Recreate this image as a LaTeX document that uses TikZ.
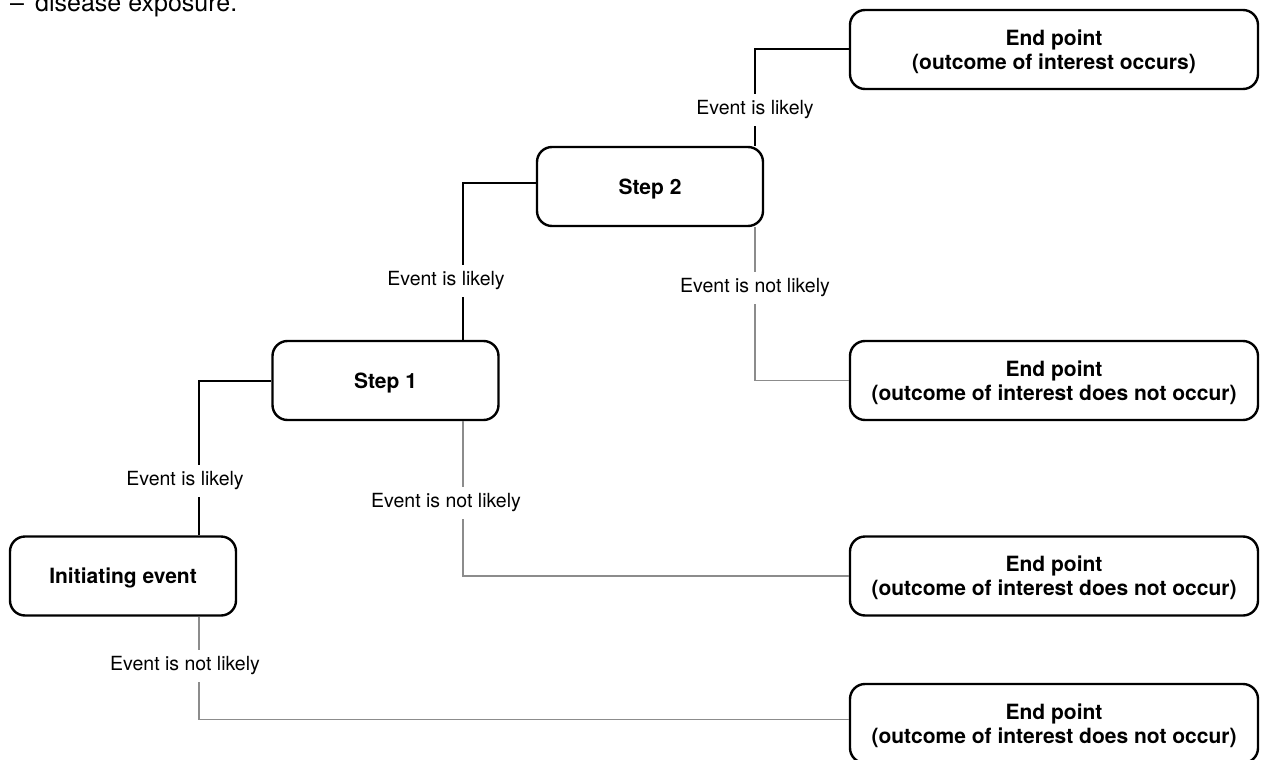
\documentclass[tikz,border=0pt]{standalone}
\usepackage{fontspec}
\setmainfont{TeX Gyre Heros}
\definecolor{linegray}{HTML}{8C8C8C}
\begin{document}
\begin{tikzpicture}[x=1pt,y=-1pt,
  box/.style={draw=black, line width=2.4pt, rounded corners=15pt, fill=white,
    font=\bfseries\fontsize{21}{24}\selectfont, align=center, inner sep=0pt},
  startbox/.style={box, minimum width=226pt, minimum height=79pt, text depth=-3pt},
  endbox/.style={box, minimum width=408pt, minimum height=79pt, text depth=-4.5pt},
  yes/.style={draw=black, line width=2pt},
  no/.style={draw=linegray, line width=1.3pt},
  lbl/.style={fill=white, font=\fontsize{19.5}{22}\selectfont, inner xsep=2pt, inner ysep=7pt},
  note/.style={anchor=base west, inner sep=0pt, font=\fontsize{25}{30}\selectfont}]
\useasboundingbox (0,0) rectangle (1261,760);
\clip (0,0) rectangle (1261,760);

% running text cut at the top edge
\node[note] (dash) at (10,12) {–};
\node[note] (notetext) at (35,12) {disease exposure.};

% event tree boxes
\node[startbox] (init)  at (123,576)     {Initiating event};
\node[startbox] (step1) at (385.5,380.5) {Step 1};
\node[startbox] (step2) at (650,186.5)   {Step 2};
\node[endbox] (end1) at (1054,49.5)  {End point\\(outcome of interest occurs)};
\node[endbox] (end2) at (1054,380.5) {End point\\(outcome of interest does not occur)};
\node[endbox] (end3) at (1054,576)   {End point\\(outcome of interest does not occur)};
\node[endbox] (end4) at (1054,723.5) {End point\\(outcome of interest does not occur)};

% branch columns
\coordinate (xa) at (199,0);
\coordinate (xb) at (463,0);
\coordinate (xc) at (755,0);

% branches
\draw[yes] (xa |- init.north) |- (step1.west);
\draw[no]  (xa |- init.south) |- ([yshift=4pt]end4.west);
\draw[yes] (xb |- step1.north) |- ([yshift=4pt]step2.west);
\draw[no]  (xb |- step1.south) |- (end3.west);
\draw[yes] (xc |- step2.north) |- (end1.west);
\draw[no]  (xc |- step2.south) |- (end2.west);

% branch labels
\node[lbl] (la) at (185,481) {Event is likely};
\node[lbl] (lb) at (185,666) {Event is not likely};
\node[lbl] (lc) at (446,281) {Event is likely};
\node[lbl] (ld) at (446,503) {Event is not likely};
\node[lbl] (le) at (755,110) {Event is likely};
\node[lbl] (lf) at (755,288) {Event is not likely};
\end{tikzpicture}
\end{document}
